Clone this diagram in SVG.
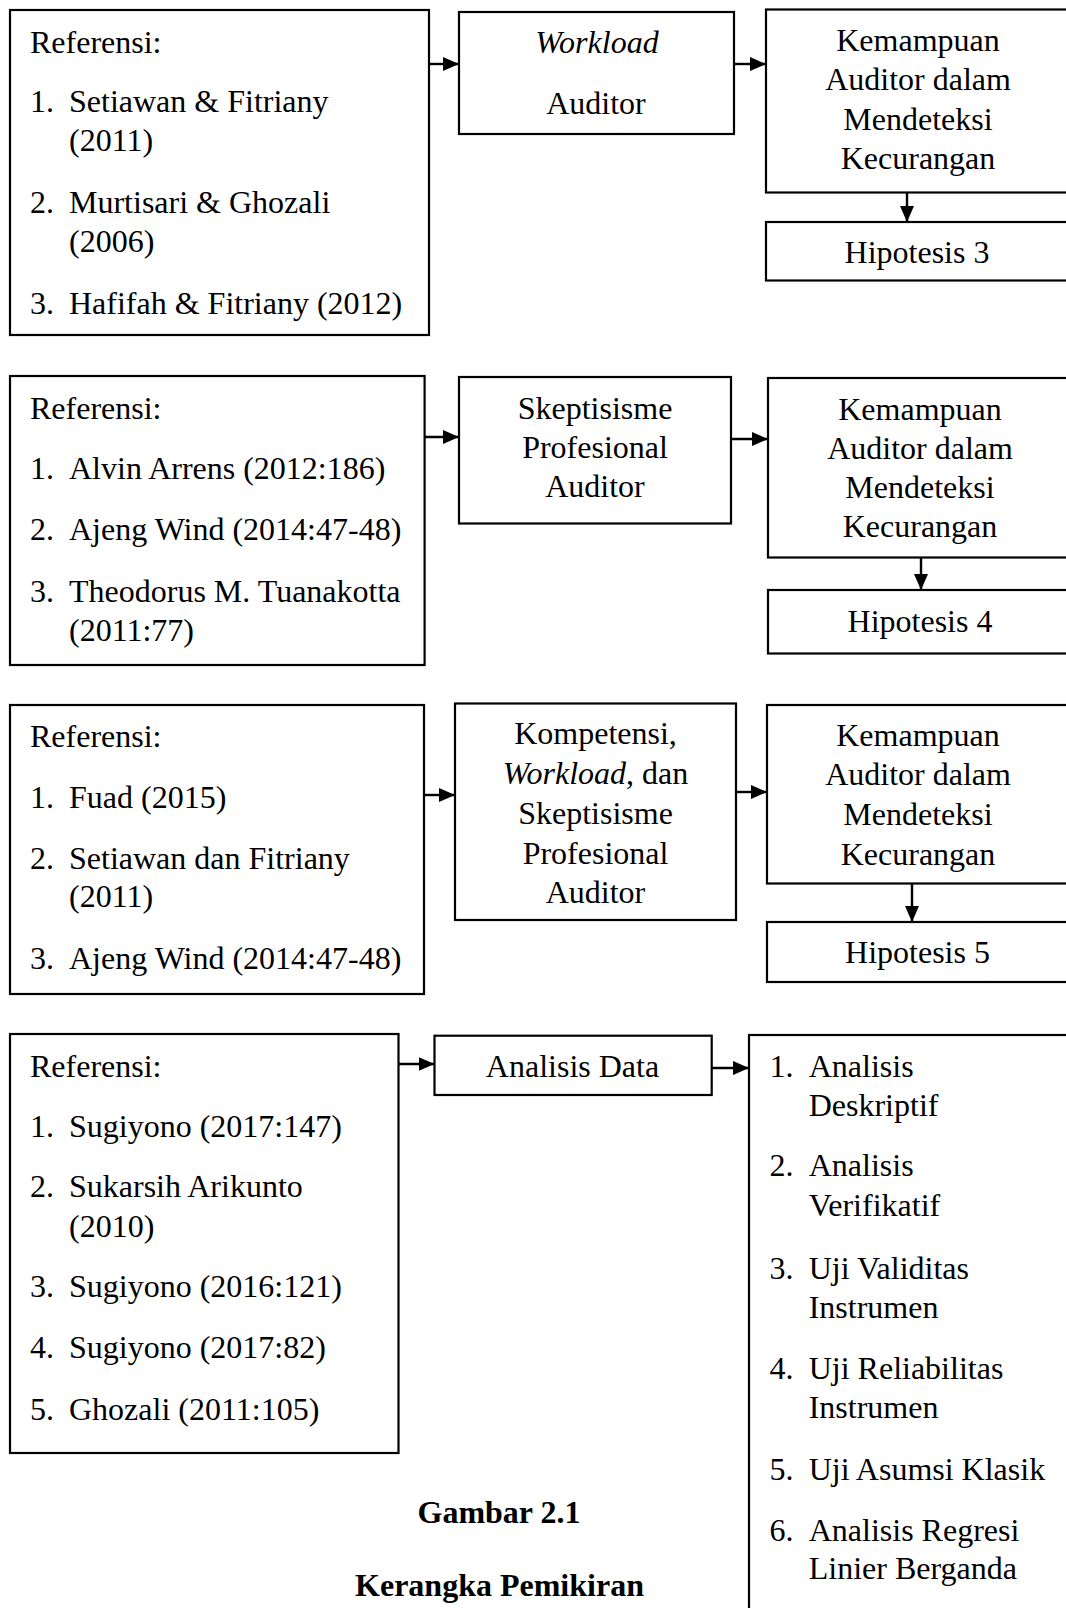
<svg xmlns="http://www.w3.org/2000/svg" width="1066" height="1608" viewBox="0 0 1066 1608">
<style>
.box{fill:#fff;stroke:#000;stroke-width:2.2}
.t{font-family:"Liberation Serif","Times New Roman",serif;font-size:32px;fill:#000}
.c{text-anchor:middle}
.i{font-style:italic}
.b{font-weight:bold}
.ln{stroke:#000;stroke-width:2.4;fill:none;marker-end:url(#ah)}
</style>
<defs>
<marker id="ah" markerUnits="userSpaceOnUse" markerWidth="17" markerHeight="15" refX="16" refY="7" orient="auto">
<path d="M0,0 L16,7 L0,14 z" fill="#000"/>
</marker>
</defs>
<rect width="1066" height="1608" fill="#fff"/>

<g id="ref1">
<rect class="box" x="10" y="10" width="419" height="325"/>
<text class="t" x="30" y="52.5">Referensi:</text>
<text class="t" x="30" y="112">1.</text><text class="t" x="69" y="112">Setiawan &amp; Fitriany</text>
<text class="t" x="69" y="150.5">(2011)</text>
<text class="t" x="30" y="213">2.</text><text class="t" x="69" y="213">Murtisari &amp; Ghozali</text>
<text class="t" x="69" y="252">(2006)</text>
<text class="t" x="30" y="313.5">3.</text><text class="t" x="69" y="313.5">Hafifah &amp; Fitriany (2012)</text>
</g>
<g id="workload">
<rect class="box" x="459" y="12" width="275" height="122"/>
<text class="t c i" x="597" y="53">Workload</text>
<text class="t c" x="596" y="113.5">Auditor</text>
</g>
<g id="kemampuan1">
<rect class="box" x="766" y="9.5" width="310" height="183"/>
<text class="t c" x="918" y="51">Kemampuan</text>
<text class="t c" x="918" y="90">Auditor dalam</text>
<text class="t c" x="918" y="129.5">Mendeteksi</text>
<text class="t c" x="918" y="168.5">Kecurangan</text>
</g>
<g id="hipotesis3">
<rect class="box" x="766" y="222" width="310" height="58.5"/>
<text class="t c" x="917" y="262.5">Hipotesis 3</text>
</g>

<g id="ref2">
<rect class="box" x="10" y="376" width="414.6" height="289"/>
<text class="t" x="30" y="418.5">Referensi:</text>
<text class="t" x="30" y="479">1.</text><text class="t" x="69" y="479">Alvin Arrens (2012:186)</text>
<text class="t" x="30" y="540">2.</text><text class="t" x="69" y="540">Ajeng Wind (2014:47-48)</text>
<text class="t" x="30" y="601.5">3.</text><text class="t" x="69" y="601.5">Theodorus M. Tuanakotta</text>
<text class="t" x="69" y="641">(2011:77)</text>
</g>
<g id="skeptisisme">
<rect class="box" x="459" y="377" width="272" height="146.5"/>
<text class="t c" x="595" y="418.5">Skeptisisme</text>
<text class="t c" x="595" y="457.5">Profesional</text>
<text class="t c" x="595" y="496.5">Auditor</text>
</g>
<g id="kemampuan2">
<rect class="box" x="768" y="378" width="310" height="179.5"/>
<text class="t c" x="920" y="419.5">Kemampuan</text>
<text class="t c" x="920" y="458.5">Auditor dalam</text>
<text class="t c" x="920" y="497.5">Mendeteksi</text>
<text class="t c" x="920" y="536.5">Kecurangan</text>
</g>
<g id="hipotesis4">
<rect class="box" x="768" y="590" width="310" height="63.5"/>
<text class="t c" x="920" y="632">Hipotesis 4</text>
</g>

<g id="ref3">
<rect class="box" x="10" y="705" width="414" height="289"/>
<text class="t" x="30" y="747">Referensi:</text>
<text class="t" x="30" y="807.5">1.</text><text class="t" x="69" y="807.5">Fuad (2015)</text>
<text class="t" x="30" y="868.5">2.</text><text class="t" x="69" y="868.5">Setiawan dan Fitriany</text>
<text class="t" x="69" y="907">(2011)</text>
<text class="t" x="30" y="968.5">3.</text><text class="t" x="69" y="968.5">Ajeng Wind (2014:47-48)</text>
</g>
<g id="kompetensi">
<rect class="box" x="455" y="703.5" width="281" height="216.5"/>
<text class="t c" x="595.5" y="743.5">Kompetensi,</text>
<text class="t c" x="595.5" y="783.5"><tspan class="i">Workload</tspan>, dan</text>
<text class="t c" x="595.5" y="823.5">Skeptisisme</text>
<text class="t c" x="595.5" y="863.5">Profesional</text>
<text class="t c" x="595.5" y="902.5">Auditor</text>
</g>
<g id="kemampuan3">
<rect class="box" x="767" y="705" width="310" height="178.5"/>
<text class="t c" x="918" y="745.5">Kemampuan</text>
<text class="t c" x="918" y="785">Auditor dalam</text>
<text class="t c" x="918" y="825">Mendeteksi</text>
<text class="t c" x="918" y="865">Kecurangan</text>
</g>
<g id="hipotesis5">
<rect class="box" x="767" y="922" width="310" height="60"/>
<text class="t c" x="917.5" y="962.5">Hipotesis 5</text>
</g>

<g id="ref4">
<rect class="box" x="10" y="1034" width="388.5" height="419"/>
<text class="t" x="30" y="1077">Referensi:</text>
<text class="t" x="30" y="1137">1.</text><text class="t" x="69" y="1137">Sugiyono (2017:147)</text>
<text class="t" x="30" y="1197">2.</text><text class="t" x="69" y="1197">Sukarsih Arikunto</text>
<text class="t" x="69" y="1237">(2010)</text>
<text class="t" x="30" y="1297">3.</text><text class="t" x="69" y="1297">Sugiyono (2016:121)</text>
<text class="t" x="30" y="1358">4.</text><text class="t" x="69" y="1358">Sugiyono (2017:82)</text>
<text class="t" x="30" y="1420">5.</text><text class="t" x="69" y="1420">Ghozali (2011:105)</text>
</g>
<g id="analisis-data">
<rect class="box" x="434.5" y="1035.7" width="277.2" height="59.3"/>
<text class="t c" x="572.5" y="1077">Analisis Data</text>
</g>
<g id="metode">
<rect class="box" x="749" y="1035" width="330" height="600"/>
<text class="t" x="769.6" y="1076.5">1.</text><text class="t" x="808.7" y="1076.5">Analisis</text>
<text class="t" x="808.7" y="1116">Deskriptif</text>
<text class="t" x="769.6" y="1176">2.</text><text class="t" x="808.7" y="1176">Analisis</text>
<text class="t" x="808.7" y="1216">Verifikatif</text>
<text class="t" x="769.6" y="1278.7">3.</text><text class="t" x="808.7" y="1278.7">Uji Validitas</text>
<text class="t" x="808.7" y="1318">Instrumen</text>
<text class="t" x="769.6" y="1378.5">4.</text><text class="t" x="808.7" y="1378.5">Uji Reliabilitas</text>
<text class="t" x="808.7" y="1418">Instrumen</text>
<text class="t" x="769.6" y="1479.5">5.</text><text class="t" x="808.7" y="1479.5">Uji Asumsi Klasik</text>
<text class="t" x="769.6" y="1541">6.</text><text class="t" x="808.7" y="1541">Analisis Regresi</text>
<text class="t" x="808.7" y="1579">Linier Berganda</text>
</g>
<g id="caption">
<text class="t c b" x="499" y="1523">Gambar 2.1</text>
<text class="t c b" x="499.5" y="1596">Kerangka Pemikiran</text>
</g>

<g id="connectors">
<line class="ln" x1="429" y1="64" x2="459" y2="64"/>
<line class="ln" x1="734" y1="64" x2="766" y2="64"/>
<line class="ln" x1="907" y1="192.5" x2="907" y2="222"/>
<line class="ln" x1="424.6" y1="437" x2="459" y2="437"/>
<line class="ln" x1="731" y1="439" x2="768" y2="439"/>
<line class="ln" x1="921" y1="557.5" x2="921" y2="590"/>
<line class="ln" x1="424" y1="795" x2="455" y2="795"/>
<line class="ln" x1="736" y1="792" x2="767" y2="792"/>
<line class="ln" x1="912" y1="883.5" x2="912" y2="922"/>
<line class="ln" x1="398.5" y1="1064" x2="434.5" y2="1064"/>
<line class="ln" x1="711.7" y1="1068" x2="749" y2="1068"/>
</g>
</svg>
